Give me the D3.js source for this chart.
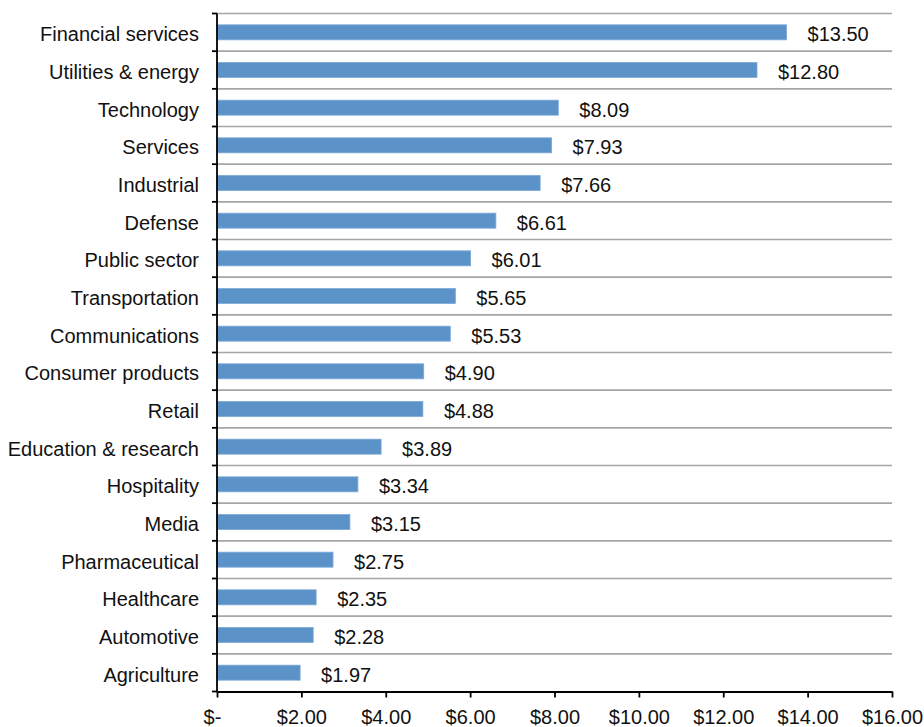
<!DOCTYPE html>
<html><head><meta charset="utf-8">
<script src="https://cdn.jsdelivr.net/npm/d3@7"></script>
<style>body{margin:0;background:#fff}svg{display:block}text{font-family:"Liberation Sans",Arial,sans-serif;fill:#111}</style>
</head><body><svg id="c" width="924" height="727"></svg>
<script>
const categories = ["Financial services","Utilities & energy","Technology","Services","Industrial","Defense","Public sector","Transportation","Communications","Consumer products","Retail","Education & research","Hospitality","Media","Pharmaceutical","Healthcare","Automotive","Agriculture"];
const values = [13.50,12.80,8.09,7.93,7.66,6.61,6.01,5.65,5.53,4.90,4.88,3.89,3.34,3.15,2.75,2.35,2.28,1.97];
const tickValues = [0,2,4,6,8,10,12,14,16];
const tickLabels = ["$-","$2.00","$4.00","$6.00","$8.00","$10.00","$12.00","$14.00","$16.00"];

(function(){
const svg = d3.select("#c");
const mLeft = 217, mRight = 892, mTop = 13.5, mBottom = 691.5;
const x = d3.scaleLinear().domain([0,16]).range([mLeft,mRight]);
const y = d3.scaleBand().domain(categories).range([mTop,mBottom]).paddingInner(0).paddingOuter(0);
const bw = y.bandwidth();
const barH = 15;
const fs = 20;

const bounds = categories.map(c => y(c));
svg.append("g").selectAll("line").data(bounds).join("line")
  .attr("x1", mLeft).attr("x2", mRight).attr("y1", d=>d).attr("y2", d=>d)
  .attr("stroke", "#a6a6a6").attr("stroke-width", 1.6);

svg.append("g").selectAll("rect").data(values).join("rect")
  .attr("x", mLeft).attr("y", (d,i)=>y(categories[i]) + bw/2 - barH/2)
  .attr("width", d=>x(d)-mLeft).attr("height", barH)
  .attr("fill", "#5b93c9").attr("stroke","#7aa8d6").attr("stroke-width",0.8);

svg.append("g").selectAll("text").data(values).join("text")
  .attr("x", d=>x(d)+21).attr("y", (d,i)=>y(categories[i]) + bw/2)
  .attr("dy","0.45em").attr("font-size", fs)
  .text(d=>"$"+d.toFixed(2));

const yAxis = d3.axisLeft(y).tickSize(0).tickPadding(18);
const gy = svg.append("g").attr("transform",`translate(${mLeft},0)`).call(yAxis);
gy.select(".domain").attr("stroke","#000").attr("stroke-width",1.8).attr("d",`M0,${mTop}V${mBottom}`);
gy.selectAll("text").attr("font-size",fs).attr("font-family",null).attr("fill","#111").attr("dy","0.45em");
gy.selectAll("line.bt").data(bounds.concat([mBottom])).join("line").attr("class","bt")
  .attr("x1",-5).attr("x2",0).attr("y1",d=>d).attr("y2",d=>d).attr("stroke","#000").attr("stroke-width",1.8);

const xAxis = d3.axisBottom(x).tickValues(tickValues).tickSize(6).tickPadding(12)
  .tickFormat((d,i)=>tickLabels[i]).tickSizeOuter(0);
const gx = svg.append("g").attr("transform",`translate(0,${mBottom})`).call(xAxis);
gx.select(".domain").attr("stroke","#000").attr("stroke-width",1.8);
gx.selectAll(".tick line").attr("stroke","#000").attr("stroke-width",1.8);
gx.selectAll("text").attr("font-size",fs).attr("font-family",null).attr("fill","#111");
gx.selectAll(".tick").filter((d,i)=>i===0).select("text").attr("dx",-5);
})();
</script></body></html>
